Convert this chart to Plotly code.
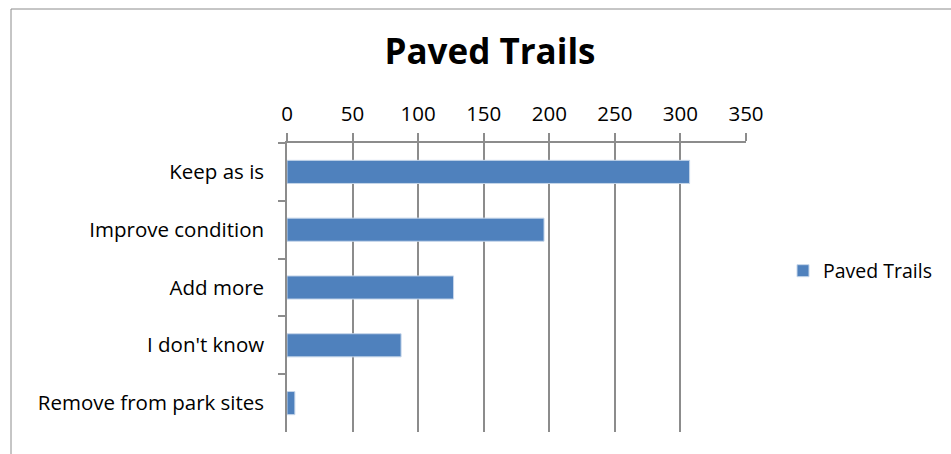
import plotly.graph_objects as go

categories = ["Keep as is", "Improve condition", "Add more", "I don't know", "Remove from park sites"]
values = [307, 196, 127, 87, 6]
series_name = "Paved Trails"
title_text = "Paved Trails"
x_ticks = [0, 50, 100, 150, 200, 250, 300, 350]

W, H = 951, 454
L, R, T, B = 287, 746, 143, 432

fig = go.Figure()
fig.add_trace(go.Bar(
    y=categories, x=values, orientation="h", name=series_name,
    marker=dict(color="#4F81BD", line=dict(color="#C6D6EA", width=1)),
    showlegend=True,
))

grid = "#8C8C8C"
FONT = "Open Sans"
fig.update_layout(
    width=W, height=H,
    margin=dict(l=L, r=W - R, t=T, b=H - B, pad=0),
    paper_bgcolor="white", plot_bgcolor="white",
    font=dict(family=FONT, size=20.5, color="black"),
    title=dict(text="<b>" + title_text + "</b>", x=490 / W, xanchor="center",
               y=1 - 52 / H, yanchor="middle", font=dict(size=35, family=FONT)),
    bargap=0.6,
    showlegend=True,
    legend=dict(x=(783 - L) / (R - L), xanchor="left", y=(B - 271) / (B - T), yanchor="middle",
                font=dict(size=19.5), itemwidth=30, bgcolor="rgba(0,0,0,0)", borderwidth=0),
    xaxis=dict(side="top", range=[0, 350], tickvals=x_ticks, showgrid=True, gridcolor=grid,
               gridwidth=1.5, showline=True, linecolor=grid, linewidth=1.5, ticks="outside",
               ticklen=8, tickcolor=grid, tickwidth=1.5, zeroline=False, ticklabelstandoff=4,
               fixedrange=True),
    yaxis=dict(categoryorder="array", categoryarray=categories, autorange="reversed",
               showline=True, linecolor=grid, linewidth=1.5, ticks="outside", ticklen=7,
               tickcolor=grid, tickwidth=1.5, tickson="boundaries", showgrid=False,
               ticklabelstandoff=17, fixedrange=True),
    shapes=[dict(type="rect", xref="paper", yref="paper",
                 x0=(11 - L) / (R - L), x1=(W + 20 - L) / (R - L),
                 y0=(B - (H + 20)) / (B - T), y1=(B - 9) / (B - T),
                 line=dict(color="#8C8C8C", width=1), fillcolor="rgba(0,0,0,0)", layer="below")],
)

fig.write_html("out.html", config={"displayModeBar": False},
               post_script="document.body.style.margin='0px';")
